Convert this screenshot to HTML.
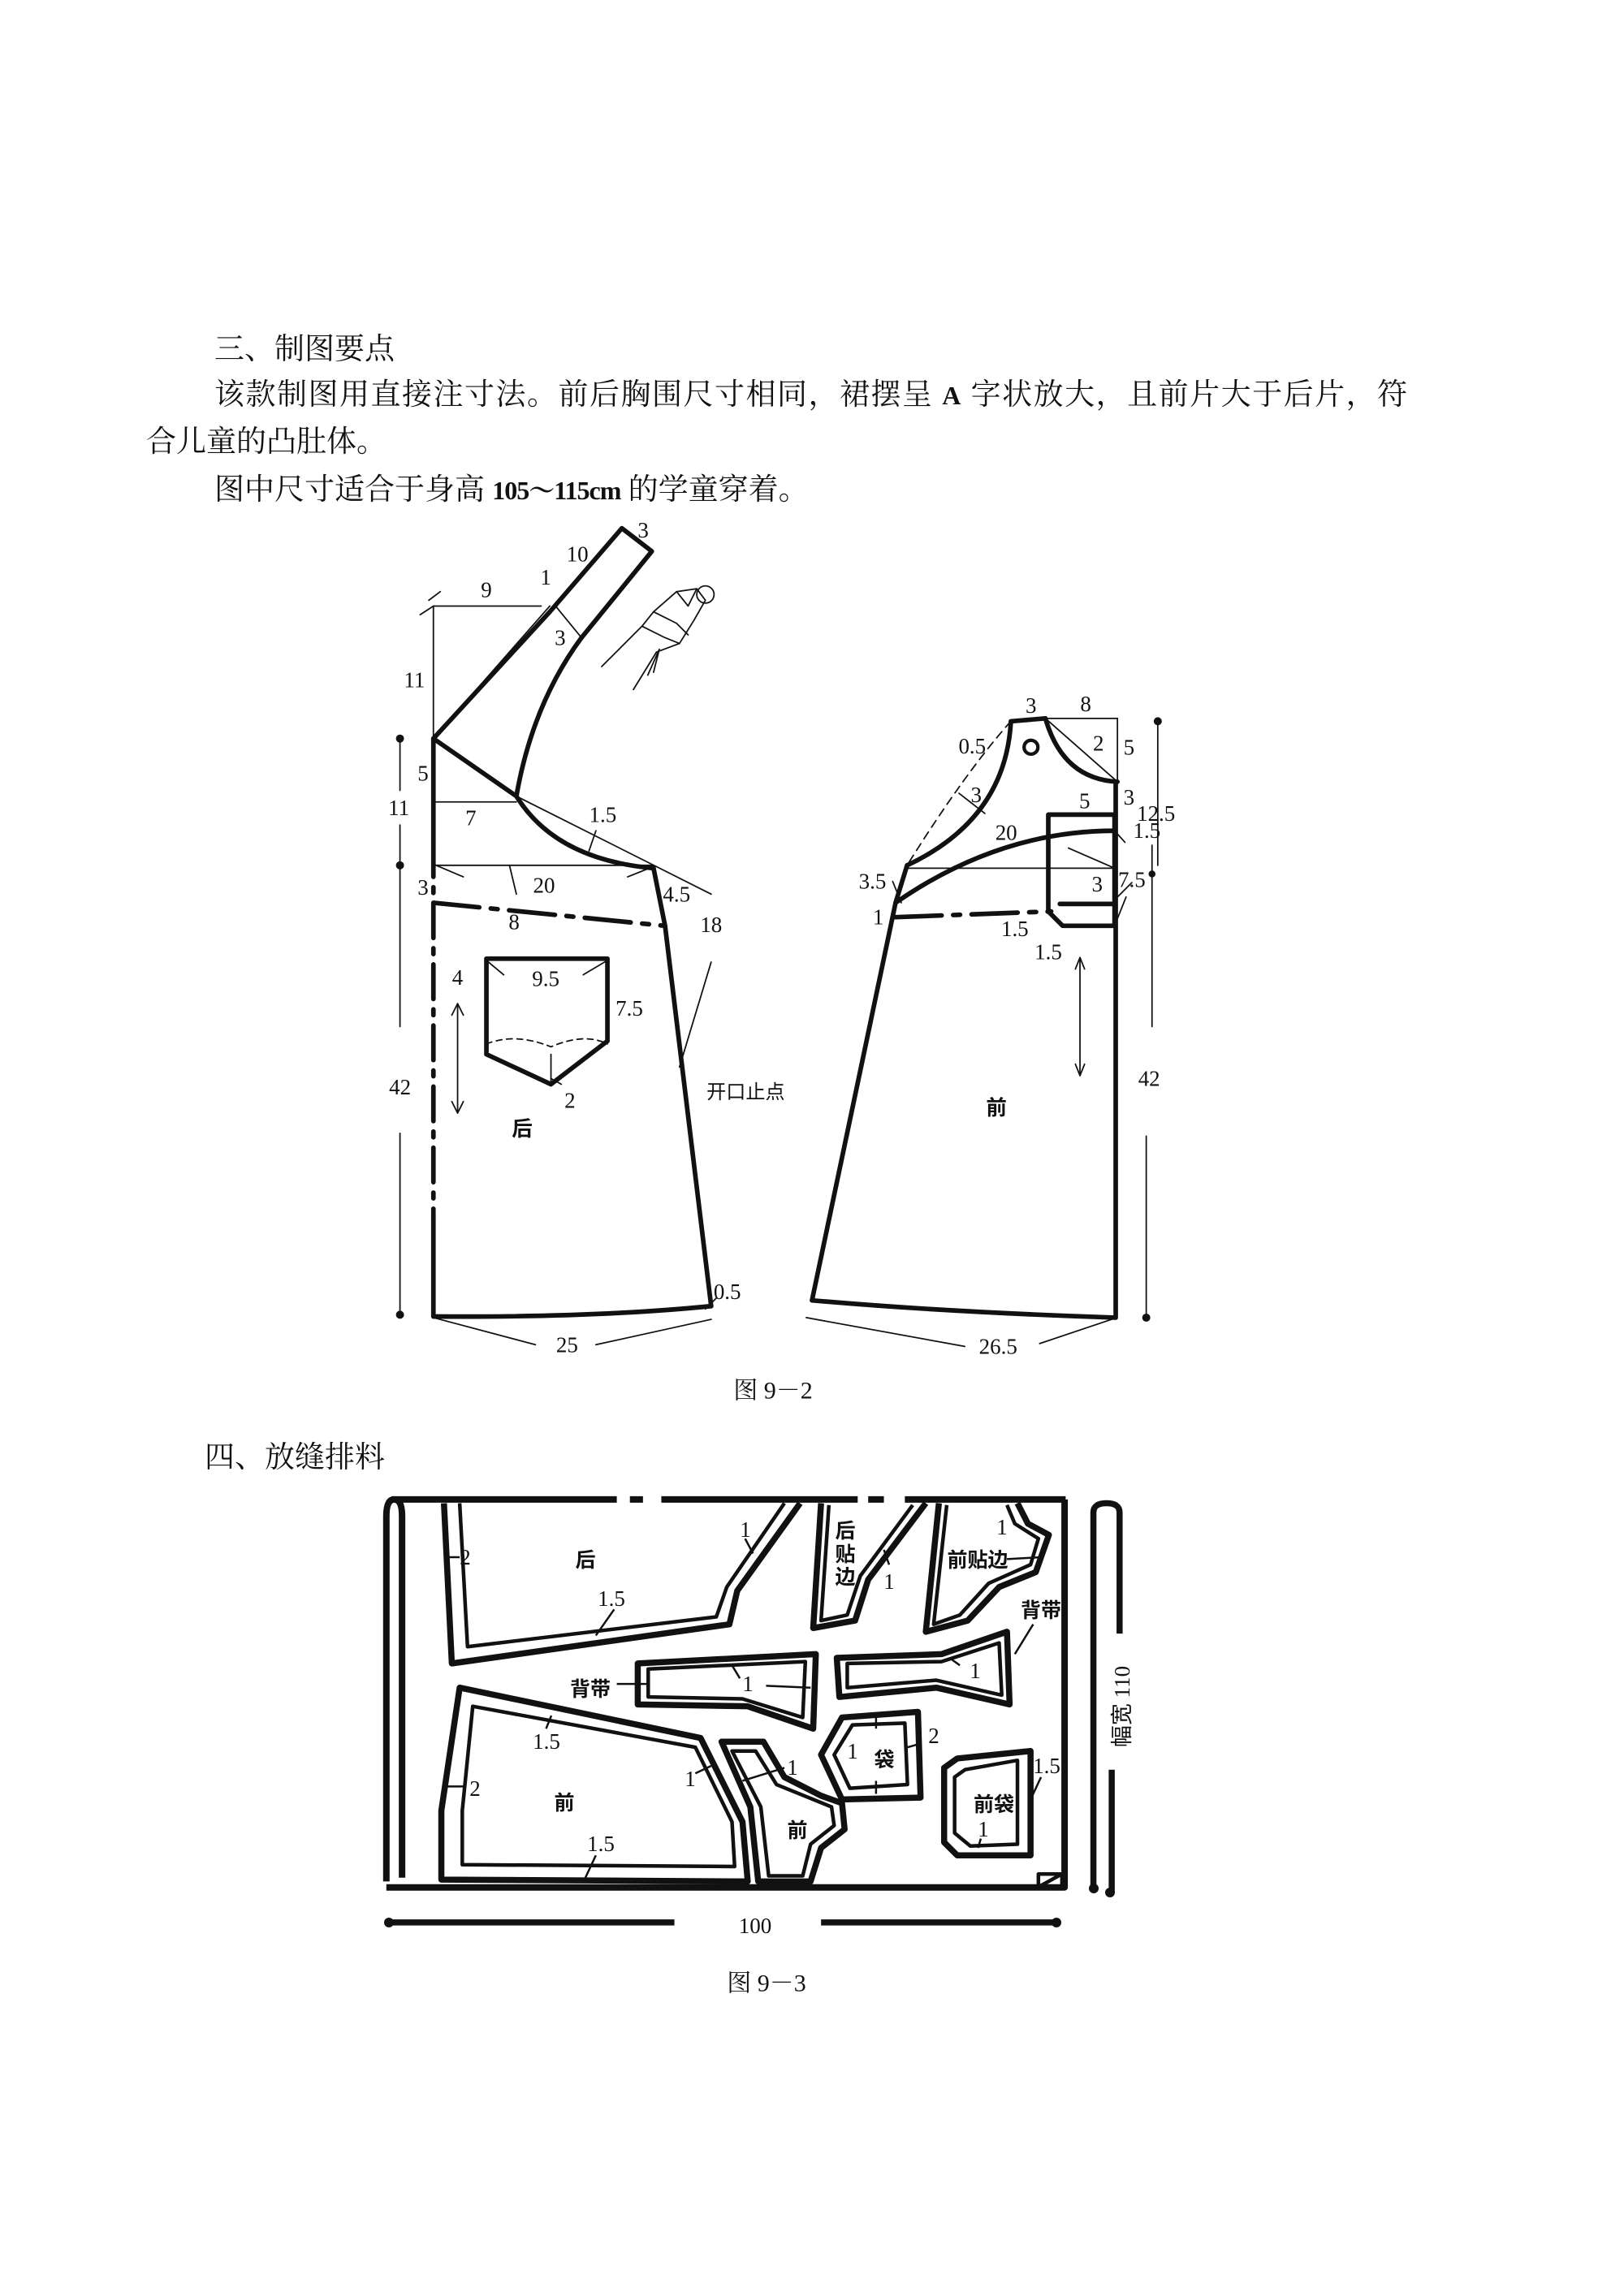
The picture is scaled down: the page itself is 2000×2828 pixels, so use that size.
<!DOCTYPE html>
<html><head><meta charset="utf-8"><style>
html,body{margin:0;padding:0;background:#fff}
body{width:2000px;height:2828px;position:relative;overflow:hidden}
.t{position:absolute;font-family:"Liberation Serif","Noto Serif CJK SC",serif;font-size:37px;color:#111;white-space:nowrap;line-height:1}
svg{position:absolute;left:0;top:0}
</style></head><body>
<div class="t" style="left:264px;top:412px">三、制图要点</div>
<div class="t" style="left:264px;top:468px;letter-spacing:1.5px">该款制图用直接注寸法。前后胸围尺寸相同，裙摆呈 <b style="font-size:32px">A</b> 字状放大，且前片大于后片，符</div>
<div class="t" style="left:180px;top:526px">合儿童的凸肚体。</div>
<div class="t" style="left:264px;top:585px">图中尺寸适合于身高 <b style="font-size:32px;letter-spacing:-1px">105～115cm</b> 的学童穿着。</div>
<div class="t" style="left:252px;top:1777px">四、放缝排料</div>

<svg width="2000" height="2828" viewBox="0 0 2000 2828">
<g font-family="Liberation Serif, Noto Serif CJK SC, serif" fill="#111" text-anchor="middle" dominant-baseline="central">
<text x="952" y="1713" font-size="30">图 9－2</text>
<text x="944" y="2443" font-size="30">图 9－3</text>
</g>

<!-- Fig 9-2 -->
<g transform="translate(450,640) scale(0.7097)" fill="none" stroke="#111" stroke-linecap="round" stroke-linejoin="round">
 <g stroke-width="8">
  <polyline points="118,380 320,160 445,15 497,55 375,205"/>
  <path d="M375,205 Q290,320 262,480"/>
  <line x1="118" y1="380" x2="262" y2="480"/>
  <path d="M262,480 Q330,590 500,605"/>
  <polyline points="500,605 520,705 600,1365"/>
  <path d="M118,1383 Q400,1385 600,1365"/>
  <line x1="118" y1="380" x2="118" y2="560"/>
  <line x1="118" y1="560" x2="118" y2="1215" stroke-dasharray="60,18,10,18"/>
  <line x1="118" y1="1215" x2="118" y2="1383"/>
  <line x1="118" y1="665" x2="520" y2="705" stroke-dasharray="80,20,12,20"/>
  <polyline points="210,762 420,762 420,905 322,980 210,928 210,762"/>
  <line x1="1120" y1="350" x2="1180" y2="345"/>
  <path d="M1120,352 Q1110,520 940,600"/>
  <path d="M1180,345 Q1210,450 1305,455"/>
  <line x1="1302" y1="455" x2="1302" y2="1385"/>
  <polyline points="940,600 920,665 775,1355"/>
  <path d="M920,665 Q1100,540 1300,540"/>
  <line x1="920" y1="690" x2="1190" y2="680" stroke-dasharray="80,20,12,20"/>
  <polyline points="1185,680 1185,512 1300,512 1300,705 1210,705 1185,680"/>
  <line x1="1205" y1="667" x2="1300" y2="667"/>
  <path d="M775,1355 Q1000,1375 1300,1385"/>
 </g>
 <g stroke-width="2.5">
  <polyline points="118,380 118,150 305,150"/>
  <line x1="118" y1="490" x2="262" y2="490"/>
  <line x1="262" y1="480" x2="600" y2="650"/>
  <line x1="118" y1="600" x2="500" y2="600"/>
  <line x1="110" y1="140" x2="130" y2="125"/>
  <line x1="95" y1="165" x2="118" y2="150"/>
  <line x1="118" y1="380" x2="320" y2="150"/>
  <line x1="118" y1="598" x2="170" y2="620"/><line x1="500" y1="602" x2="455" y2="620"/>
  <line x1="250" y1="600" x2="262" y2="650"/>
  <path d="M210,910 Q260,890 322,915 Q380,890 420,910" stroke-dasharray="10,8"/>
  <line x1="322" y1="928" x2="322" y2="980"/><line x1="322" y1="970" x2="340" y2="980"/>
  <line x1="210" y1="765" x2="240" y2="790"/><line x1="420" y1="765" x2="378" y2="790"/>
  <line x1="160" y1="840" x2="160" y2="1030"/>
  <polyline points="150,860 160,840 170,860"/><polyline points="150,1010 160,1030 170,1010"/>
  <line x1="60" y1="380" x2="60" y2="470"/><line x1="60" y1="530" x2="60" y2="880"/><line x1="60" y1="1065" x2="60" y2="1380"/>
  <line x1="118" y1="1385" x2="295" y2="1432"/><line x1="400" y1="1432" x2="600" y2="1388"/>
  <line x1="545" y1="950" x2="600" y2="768"/>
  <line x1="590" y1="1370" x2="610" y2="1350"/>
  <line x1="400" y1="540" x2="388" y2="575"/>
  <line x1="330" y1="150" x2="375" y2="205"/>
  <path d="M410,255 L480,185 L500,160 L540,125 L575,120 L590,140 L570,175 L545,215 L505,230 L465,295"/>
  <path d="M480,185 L520,205 L545,215 M500,160 L540,180 L560,200 M540,125 L560,150 L575,120"/>
  <circle cx="590" cy="130" r="15"/>
  <path d="M490,270 L510,225 L500,265"/>
  <path d="M1120,350 Q1040,440 940,600" stroke-dasharray="14,10"/>
  <line x1="1180" y1="345" x2="1305" y2="345"/>
  <line x1="1180" y1="345" x2="1305" y2="455"/>
  <line x1="1305" y1="345" x2="1305" y2="455"/>
  <line x1="1030" y1="475" x2="1075" y2="510"/>
  <line x1="940" y1="605" x2="1300" y2="605"/>
  <line x1="1220" y1="570" x2="1300" y2="605"/>
  <line x1="1375" y1="350" x2="1375" y2="600"/><line x1="1365" y1="565" x2="1365" y2="880"/><line x1="1355" y1="1070" x2="1355" y2="1385"/>
  <line x1="765" y1="1385" x2="1040" y2="1435"/><line x1="1170" y1="1430" x2="1295" y2="1388"/>
  <line x1="1240" y1="760" x2="1240" y2="965"/>
  <polyline points="1232,780 1240,760 1248,780"/><polyline points="1232,945 1240,965 1248,945"/>
  <line x1="915" y1="628" x2="930" y2="665"/>
  <line x1="1305" y1="655" x2="1330" y2="630"/>
  <line x1="1300" y1="705" x2="1320" y2="655"/>
  <line x1="1300" y1="540" x2="1318" y2="560"/>
 </g>
 <g fill="#111" stroke="none">
  <circle cx="60" cy="380" r="7"/><circle cx="60" cy="600" r="7"/><circle cx="60" cy="1380" r="7"/>
  <circle cx="1375" cy="350" r="7"/><circle cx="1365" cy="615" r="6"/><circle cx="1355" cy="1385" r="7"/>
 </g>
 <circle cx="1155" cy="395" r="12" stroke-width="6"/>
 <g font-family="Liberation Serif, Noto Sans CJK SC, serif" font-size="38" fill="#111" stroke="none" text-anchor="middle" dominant-baseline="central">
  <text x="482" y="18">3</text><text x="368" y="60">10</text><text x="313" y="100">1</text><text x="210" y="122">9</text>
  <text x="338" y="205">3</text><text x="85" y="278">11</text><text x="100" y="440">5</text><text x="58" y="500">11</text>
  <text x="183" y="518">7</text><text x="412" y="512">1.5</text><text x="310" y="635">20</text><text x="100" y="638">3</text>
  <text x="258" y="698">8</text><text x="540" y="650">4.5</text><text x="600" y="703">18</text><text x="160" y="795">4</text>
  <text x="313" y="797">9.5</text><text x="458" y="848">7.5</text><text x="355" y="1008">2</text><text x="60" y="985">42</text>
  <text x="272" y="1055" font-weight="bold" font-family="Noto Sans CJK SC, sans-serif" font-size="36">后</text>
  <text x="660" y="990" font-family="Noto Sans CJK SC, sans-serif" font-size="34">开口止点</text>
  <text x="628" y="1340">0.5</text><text x="350" y="1432">25</text>
  <text x="1155" y="323">3</text><text x="1250" y="320">8</text><text x="1053" y="393">0.5</text><text x="1272" y="388">2</text>
  <text x="1325" y="395">5</text><text x="1060" y="478">3</text><text x="1325" y="482">3</text><text x="1248" y="488">5</text>
  <text x="1372" y="510">12.5</text><text x="1112" y="543">20</text><text x="1356" y="540">1.5</text><text x="880" y="628">3.5</text>
  <text x="1270" y="633">3</text><text x="1330" y="625">7.5</text><text x="890" y="690">1</text><text x="1127" y="710">1.5</text>
  <text x="1185" y="750">1.5</text><text x="1360" y="970">42</text>
  <text x="1095" y="1018" font-weight="bold" font-family="Noto Sans CJK SC, sans-serif" font-size="36">前</text>
  <text x="1098" y="1435">26.5</text>
 </g>
</g>

<!-- Fig 9-3 -->
<g transform="translate(450,1762) scale(0.645,0.459)" fill="none" stroke="#111" stroke-linejoin="round">
 <g stroke-width="8">
  <line x1="50" y1="185" x2="480" y2="185" vector-effect="non-scaling-stroke"/>
  <line x1="505" y1="185" x2="530" y2="185" vector-effect="non-scaling-stroke"/>
  <line x1="565" y1="185" x2="940" y2="185" vector-effect="non-scaling-stroke"/>
  <line x1="960" y1="185" x2="990" y2="185" vector-effect="non-scaling-stroke"/>
  <line x1="1030" y1="185" x2="1337" y2="185" vector-effect="non-scaling-stroke"/>
  <polyline points="1335,185 1335,1226 40,1226" vector-effect="non-scaling-stroke"/>
  <path d="M40,1210 L40,230 Q40,185 55,185 Q70,185 70,230 L70,1200" vector-effect="non-scaling-stroke"/>
 </g>
 <g stroke-width="7.5">
  <polyline vector-effect="non-scaling-stroke" points="150,195 165,625 695,520 710,430 830,195"/>
  <polyline vector-effect="non-scaling-stroke" points="870,195 855,530 935,510 960,400 1070,195"/>
  <polyline vector-effect="non-scaling-stroke" points="1095,195 1070,540 1150,510 1210,420 1280,380 1305,280 1265,250 1245,195"/>
  <polygon vector-effect="non-scaling-stroke" points="520,625 860,600 855,800 730,740 520,735"/>
  <polygon vector-effect="non-scaling-stroke" points="900,610 1100,600 1225,540 1230,735 1090,690 905,715"/>
  <polygon vector-effect="non-scaling-stroke" points="180,690 640,825 720,1050 730,1210 145,1205 145,1020"/>
  <polygon vector-effect="non-scaling-stroke" points="680,835 760,835 800,930 870,980 910,1000 915,1070 870,1120 850,1210 750,1210 735,1010"/>
  <polygon vector-effect="non-scaling-stroke" points="910,770 1055,755 1060,985 910,990 870,870"/>
  <polygon vector-effect="non-scaling-stroke" points="1130,880 1270,860 1270,1140 1130,1140 1105,1105 1105,905"/>
  <line vector-effect="non-scaling-stroke" x1="45" y1="1320" x2="590" y2="1320"/>
  <line vector-effect="non-scaling-stroke" x1="870" y1="1320" x2="1320" y2="1320"/>
  <path vector-effect="non-scaling-stroke" d="M1390,1230 L1390,220 Q1390,195 1415,195 Q1440,195 1440,220 L1440,545"/>
  <line vector-effect="non-scaling-stroke" x1="1425" y1="910" x2="1425" y2="1240"/>
 </g>
 <g stroke-width="4.5">
  <polyline vector-effect="non-scaling-stroke" points="180,195 195,580 670,500 690,420 800,195"/>
  <polyline vector-effect="non-scaling-stroke" points="885,200 870,510 920,495 945,390 1045,200"/>
  <polyline vector-effect="non-scaling-stroke" points="1110,200 1085,520 1135,495 1190,410 1270,360 1285,290 1240,250 1225,200"/>
  <polygon vector-effect="non-scaling-stroke" points="540,640 840,620 835,770 720,720 540,715"/>
  <polygon vector-effect="non-scaling-stroke" points="920,625 1100,620 1210,570 1215,710 1090,670 920,690"/>
  <polygon vector-effect="non-scaling-stroke" points="205,740 630,850 700,1050 705,1170 185,1165 185,1020"/>
  <polygon vector-effect="non-scaling-stroke" points="700,860 745,860 785,950 890,1010 895,1060 850,1110 835,1195 770,1195 755,1010"/>
  <polygon vector-effect="non-scaling-stroke" points="930,790 1030,785 1035,950 925,960 895,870"/>
  <polygon vector-effect="non-scaling-stroke" points="1145,910 1245,885 1245,1110 1155,1115 1125,1080 1125,930"/>
  <rect vector-effect="non-scaling-stroke" x="1285" y="1190" width="45" height="35"/>
  <line vector-effect="non-scaling-stroke" x1="1285" y1="1225" x2="1330" y2="1190"/>
 </g>
 <g stroke-width="2.5">
  <line vector-effect="non-scaling-stroke" x1="150" y1="340" x2="180" y2="340"/>
  <line vector-effect="non-scaling-stroke" x1="440" y1="550" x2="475" y2="480"/>
  <line vector-effect="non-scaling-stroke" x1="725" y1="290" x2="740" y2="330"/>
  <line vector-effect="non-scaling-stroke" x1="990" y1="320" x2="1000" y2="360"/>
  <line vector-effect="non-scaling-stroke" x1="1225" y1="345" x2="1290" y2="340"/>
  <line vector-effect="non-scaling-stroke" x1="1240" y1="600" x2="1275" y2="520"/>
  <line vector-effect="non-scaling-stroke" x1="480" y1="680" x2="540" y2="680"/>
  <line vector-effect="non-scaling-stroke" x1="765" y1="685" x2="850" y2="690"/>
  <line vector-effect="non-scaling-stroke" x1="700" y1="630" x2="715" y2="665"/>
  <line vector-effect="non-scaling-stroke" x1="1120" y1="615" x2="1135" y2="630"/>
  <line vector-effect="non-scaling-stroke" x1="345" y1="800" x2="355" y2="765"/>
  <line vector-effect="non-scaling-stroke" x1="150" y1="955" x2="190" y2="955"/>
  <line vector-effect="non-scaling-stroke" x1="630" y1="920" x2="660" y2="900"/>
  <line vector-effect="non-scaling-stroke" x1="720" y1="940" x2="800" y2="905"/>
  <line vector-effect="non-scaling-stroke" x1="975" y1="770" x2="975" y2="800"/>
  <line vector-effect="non-scaling-stroke" x1="975" y1="940" x2="975" y2="975"/>
  <line vector-effect="non-scaling-stroke" x1="1035" y1="850" x2="1060" y2="840"/>
  <line vector-effect="non-scaling-stroke" x1="1270" y1="990" x2="1290" y2="930"/>
  <line vector-effect="non-scaling-stroke" x1="1170" y1="1120" x2="1175" y2="1095"/>
  <line vector-effect="non-scaling-stroke" x1="420" y1="1200" x2="440" y2="1140"/>
 </g>
</g>
<g fill="#111">
 <circle cx="479" cy="2368" r="6"/><circle cx="1301" cy="2368" r="6"/>
 <circle cx="1347" cy="2326" r="6"/><circle cx="1367" cy="2331" r="6"/>
</g>
<g transform="translate(0,-13)" font-family="Liberation Serif, Noto Sans CJK SC, serif" font-size="27" fill="#111" text-anchor="middle" dominant-baseline="central">
 <text x="573" y="1931">2</text><text x="918" y="1897">1</text><text x="753" y="1982">1.5</text>
 <text x="1095" y="1961">1</text><text x="1234" y="1894">1</text>
 <text x="921" y="2087">1</text><text x="1201" y="2071">1</text><text x="673" y="2158">1.5</text>
 <text x="585" y="2216">2</text><text x="850" y="2204">1</text><text x="976" y="2190">1</text>
 <text x="1050" y="2170">1</text><text x="1150" y="2151">2</text><text x="1289" y="2188">1.5</text>
 <text x="1211" y="2266">1</text><text x="740" y="2284">1.5</text><text x="930" y="2385">100</text>
 <g font-family="Noto Sans CJK SC, sans-serif" font-weight="bold" font-size="25">
  <text x="721" y="1933">后</text>
  <text x="1041" y="1897">后</text><text x="1041" y="1926">贴</text><text x="1041" y="1954">边</text>
  <text x="1204" y="1933">前贴边</text><text x="1282" y="1995">背带</text><text x="727" y="2092">背带</text>
  <text x="695" y="2232">前</text><text x="1089" y="2179">袋</text><text x="982" y="2266">前</text>
  <text x="1224" y="2234">前袋</text>
 </g>
 <text x="1382" y="2115" transform="rotate(-90 1382 2115)" font-family="Liberation Serif, Noto Sans CJK SC, serif">幅宽 110</text>
</g>
</svg>
</body></html>
